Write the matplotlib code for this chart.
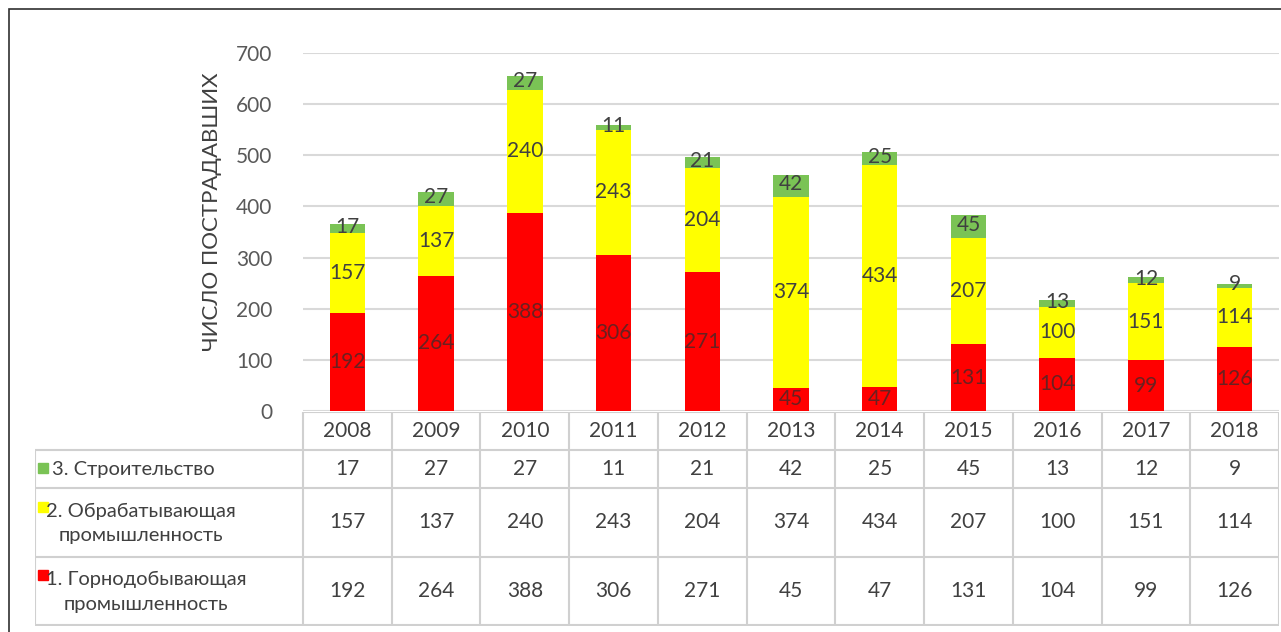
import matplotlib.pyplot as plt
from matplotlib.patches import Rectangle

plt.rcParams['font.family'] = ['Lato', 'DejaVu Sans']

years = ['2008', '2009', '2010', '2011', '2012', '2013', '2014', '2015', '2016', '2017', '2018']
mining = [192, 264, 388, 306, 271, 45, 47, 131, 104, 99, 126]
manufacturing = [157, 137, 240, 243, 204, 374, 434, 207, 100, 151, 114]
construction = [17, 27, 27, 11, 21, 42, 25, 45, 13, 12, 9]

row_labels = ['3. Строительство', '2. Обрабатывающая\nпромышленность', '1. Горнодобывающая\nпромышленность']
colors = ['#ff0000', '#ffff00', '#7ac355']
text_col = '#404040'
grid_col = '#d9d9d9'

W, H = 1281, 632
fig = plt.figure(figsize=(W / 100, H / 100), dpi=100)

# внешняя рамка (справа и снизу уходит за край картинки)
fig.patches.append(Rectangle((9 / W, -10 / H), (W + 10) / W, (H - 9 + 10) / H, transform=fig.transFigure,
                             fill=False, edgecolor='#303030', linewidth=1.2))

# основная область со столбцами
ax_l, ax_r = 303, 1279
ax = fig.add_axes([ax_l / W, 1 - 411 / H, (ax_r - ax_l) / W, (411 - 53) / H])
x = list(range(len(years)))
bottom2 = mining
bottom3 = [a + b for a, b in zip(mining, manufacturing)]
ax.bar(x, mining, width=0.4, color=colors[0], zorder=3)
ax.bar(x, manufacturing, width=0.4, bottom=bottom2, color=colors[1], zorder=3)
ax.bar(x, construction, width=0.4, bottom=bottom3, color=colors[2], zorder=3)

for i in x:
    ax.text(i, mining[i] / 2, str(mining[i]), ha='center', va='center', fontsize=15, color='#6a2020', zorder=4)
    ax.text(i, bottom2[i] + manufacturing[i] / 2, str(manufacturing[i]), ha='center', va='center',
            fontsize=15, color=text_col, zorder=4)
    ax.text(i, bottom3[i] + construction[i] / 2 + 3, str(construction[i]), ha='center', va='center',
            fontsize=15, color=text_col, zorder=4)

ax.set_xlim(-0.5, len(years) - 0.5)
ax.set_ylim(0, 700)
ax.set_yticks(range(0, 701, 100))
ax.set_xticks([])
ax.tick_params(axis='y', length=0, labelsize=15, labelcolor='#595959', pad=22)
ax.grid(axis='y', color=grid_col, linewidth=1.5, zorder=0)
for s in ax.spines.values():
    s.set_visible(False)
ax.set_ylabel('ЧИСЛО ПОСТРАДАВШИХ', fontsize=16, color=text_col)
ax.yaxis.set_label_coords(-0.083, 0.556)

# таблица данных под графиком
col_w = (ax_r - ax_l) / len(years)
tab = fig.add_axes([35 / W, 1 - 626 / H, (ax_r - 35) / W, (626 - 412) / H])
x0 = -0.5 - (ax_l - 35) / col_w
tab.set_xlim(x0, len(years) - 0.5)
tab.set_ylim(626, 412)
tab.axis('off')

row_edges = [412, 450, 488, 557, 625]
lc = '#d0d0d0'
tab.hlines(row_edges[0], -0.5, len(years) - 0.5, color=lc, lw=1.5)
for y in row_edges[1:]:
    tab.hlines(y, x0, len(years) - 0.5, color=lc, lw=1.5)
tab.vlines(x0, row_edges[1], row_edges[-1], color=lc, lw=1.5)
for k in range(len(years) + 1):
    tab.vlines(k - 0.5, row_edges[0], row_edges[-1], color=lc, lw=1.5)

for i, yr in enumerate(years):
    tab.text(i, (row_edges[0] + row_edges[1]) / 2, yr, ha='center', va='center', fontsize=15, color=text_col)

table_rows = [construction, manufacturing, mining]
sq_colors = [colors[2], colors[1], colors[0]]
for r, vals in enumerate(table_rows):
    yc = (row_edges[r + 1] + row_edges[r + 2]) / 2
    for i, v in enumerate(vals):
        tab.text(i, yc, str(v), ha='center', va='center', fontsize=15, color=text_col)
    if r == 0:
        fig.text(52 / W, 1 - yc / H, row_labels[r], ha='left', va='center', fontsize=14.5, color=text_col)
        sq_y = yc - 1
    else:
        cx = 141 if r == 1 else 146
        fig.text(cx / W, 1 - (yc + 1) / H, row_labels[r], ha='center', va='center', fontsize=14.5,
                 color=text_col, multialignment='center', linespacing=1.55)
        sq_y = yc - 16
    fig.patches.append(Rectangle((38 / W, 1 - (sq_y + 5) / H), 10 / W, 10 / H,
                                 transform=fig.transFigure, color=sq_colors[r]))

fig.savefig('out.png', dpi=100)
